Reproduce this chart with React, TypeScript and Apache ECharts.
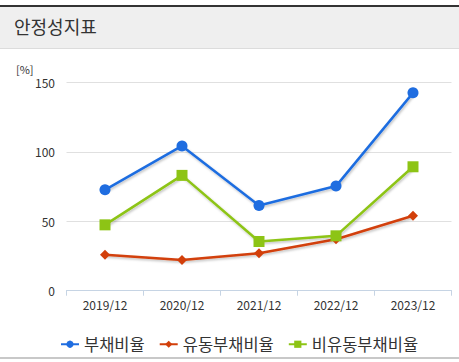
import React, { useEffect, useRef } from "react";
import * as echarts from "echarts";

const categories = ["2019/12", "2020/12", "2021/12", "2022/12", "2023/12"];
const debtRatio = [72.6, 104.2, 61.3, 75.3, 142.4];
const currentDebtRatio = [25.8, 22.1, 27, 37, 53.9];
const nonCurrentDebtRatio = [47.4, 83, 35.4, 39.5, 89.2];
const seriesNames = ["부채비율", "유동부채비율", "비유동부채비율"];
const yTicks = { min: 0, max: 150, interval: 50 };

const FONT = '"Segoe UI", "Noto Sans CJK KR", "Noto Sans", sans-serif';
const KFONT = '"Noto Sans CJK KR", sans-serif';

export default function App() {
  const ref = useRef<HTMLDivElement>(null);
  useEffect(() => {
    document.body.style.margin = "0";
    const chart = echarts.init(ref.current!, null, { renderer: "svg" });
    const shadow = {
      shadowColor: "rgba(0,0,0,0.25)",
      shadowBlur: 2,
      shadowOffsetX: 1,
      shadowOffsetY: 1.5,
    };
    const colors = ["#1f6de0", "#d23f0a", "#8dc415"];
    chart.setOption({
      animation: false,
      backgroundColor: "#ffffff",
      color: colors,
      graphic: [
        { type: "rect", left: 0, top: 5, shape: { width: 459, height: 2 }, style: { fill: "#333333" } },
        { type: "rect", left: 0, top: 7, shape: { width: 459, height: 41 }, style: { fill: "#efefef" } },
        { type: "rect", left: 0, top: 48, shape: { width: 459, height: 1 }, style: { fill: "#dcdcdc" } },
        {
          type: "text",
          left: 14,
          top: 17,
          style: { text: "안정성지표", fontSize: 18, fill: "#333333", fontFamily: KFONT },
        },
        {
          type: "text",
          left: 16,
          top: 63,
          style: { text: "[%]", fontSize: 11, fill: "#333333", fontFamily: FONT },
        },
        { type: "rect", left: 0, top: 357, shape: { width: 459, height: 2 }, style: { fill: "#c8c8c8" } },
      ],
      legend: {
        left: 55,
        top: 331,
        itemWidth: 18,
        itemHeight: 9,
        itemGap: 14,
        textStyle: { fontSize: 16.5, color: "#333333", fontFamily: KFONT },
        data: seriesNames,
      },
      grid: { left: 66.5, right: 7.5, top: 82.3, bottom: 71.3, containLabel: false },
      xAxis: {
        type: "category",
        data: categories,
        boundaryGap: true,
        axisLine: { lineStyle: { color: "#c6d4e4", width: 1 } },
        axisTick: { show: true, length: 5, lineStyle: { color: "#c6d4e4" } },
        axisLabel: { color: "#333333", fontSize: 12, margin: 8, fontFamily: FONT },
      },
      yAxis: {
        type: "value",
        min: yTicks.min,
        max: yTicks.max,
        interval: yTicks.interval,
        axisLine: { show: false },
        axisTick: { show: false },
        axisLabel: { color: "#333333", fontSize: 12, margin: 11.5, fontFamily: FONT },
        splitLine: { lineStyle: { color: "#e0e0e0", width: 1 } },
      },
      series: [
        {
          name: seriesNames[0],
          type: "line",
          data: debtRatio,
          symbol: "circle",
          symbolSize: 11,
          lineStyle: { width: 2.5, ...shadow },
          itemStyle: { color: colors[0] },
        },
        {
          name: seriesNames[1],
          type: "line",
          data: currentDebtRatio,
          symbol: "diamond",
          symbolSize: 10,
          lineStyle: { width: 2.5, ...shadow },
          itemStyle: { color: colors[1] },
        },
        {
          name: seriesNames[2],
          type: "line",
          data: nonCurrentDebtRatio,
          symbol: "rect",
          symbolSize: 11,
          lineStyle: { width: 2.5, ...shadow },
          itemStyle: { color: colors[2] },
        },
      ],
    });
    return () => chart.dispose();
  }, []);
  return (
    <div
      ref={ref}
      style={{ position: "absolute", left: 0, top: 0, width: 459, height: 362 }}
    />
  );
}
